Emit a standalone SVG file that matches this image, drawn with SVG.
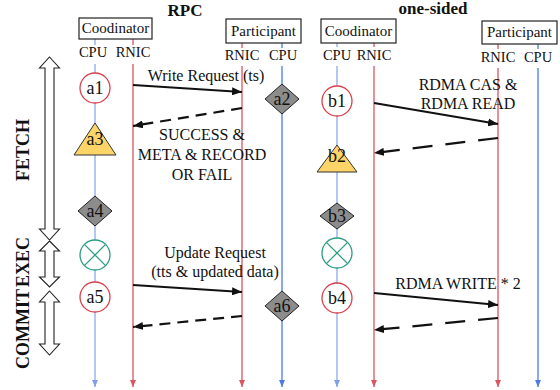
<svg xmlns="http://www.w3.org/2000/svg" width="560" height="390" viewBox="0 0 560 390">
<style>
text{font-family:"Liberation Serif","Times New Roman",serif;fill:#111}
.title{font-size:17px;font-weight:bold;text-anchor:middle}
.box{fill:#fff;stroke:#222;stroke-width:1.2}
.boxt{font-size:15px;text-anchor:middle}
.lab{font-size:14.5px;text-anchor:middle}
.msg{font-size:16px;text-anchor:middle}
.nt{font-size:18px;text-anchor:middle}
.red{stroke:#dc5560;stroke-width:1.3;fill:none}
.blue{stroke:#4f7be6;stroke-width:1.3;fill:none}
.lblue{stroke:#a3bbf2;stroke-width:1.6;fill:none}
.req{stroke:#111;stroke-width:2.2;fill:none}
.resp{stroke:#111;stroke-width:2.2;fill:none;stroke-dasharray:11,7}
.resp2{stroke:#111;stroke-width:2.2;fill:none;stroke-dasharray:20,13}
.circ{fill:#fff;stroke:#d8404a;stroke-width:1.3}
.dia{fill:#8c8c8c;stroke:#222;stroke-width:1}
.tri{fill:#fcd468;stroke:#333;stroke-width:1}
.cx{fill:#fff;stroke:#2a9d82;stroke-width:1.3}
.phase{fill:#fff;stroke:#222;stroke-width:1.1}
.vt{font-size:18px;font-weight:bold;text-anchor:middle}
</style>
<defs>
<marker id="ah" viewBox="0 0 10 8" refX="10" refY="4" markerWidth="10" markerHeight="8" markerUnits="userSpaceOnUse" orient="auto"><path d="M0,0 L10,4 L0,8 Z" fill="#111"/></marker>
<marker id="ahr" viewBox="0 0 6 7" refX="3" refY="7" markerWidth="6" markerHeight="7" markerUnits="userSpaceOnUse" orient="0"><path d="M0,0 L6,0 L3,7 Z" fill="#dc5560"/></marker>
<marker id="ahb" viewBox="0 0 6 7" refX="3" refY="7" markerWidth="6" markerHeight="7" markerUnits="userSpaceOnUse" orient="0"><path d="M0,0 L6,0 L3,7 Z" fill="#4f7be6"/></marker>
<marker id="ahl" viewBox="0 0 6 7" refX="3" refY="7" markerWidth="6" markerHeight="7" markerUnits="userSpaceOnUse" orient="0"><path d="M0,0 L6,0 L3,7 Z" fill="#7f9fec"/></marker>
</defs>

<rect width="560" height="390" fill="#fff"/>

<text class="title" x="185" y="16">RPC</text>
<text class="title" x="433" y="14">one-sided</text>

<g id="lifelines">
<path class="lblue" d="M95,39V45M95,64V387" marker-end="url(#ahl)"/>
<path class="red" d="M133,39V45M133,64V387" marker-end="url(#ahr)"/>
<path class="red" d="M242,43V48M242,66V387" marker-end="url(#ahr)"/>
<path class="blue" d="M282,43V48M282,66V387" marker-end="url(#ahb)"/>
<path class="lblue" d="M337,43V47M337,66V387" marker-end="url(#ahl)"/>
<path class="red" d="M374,43V47M374,66V387" marker-end="url(#ahr)"/>
<path class="red" d="M498,44V49M498,68V387" marker-end="url(#ahr)"/>
<path class="blue" d="M538,44V49M538,68V387" marker-end="url(#ahb)"/>
</g>

<g id="coord-rpc">
<rect class="box" x="79" y="18" width="73" height="21"/>
<text class="boxt" x="115.5" y="33">Coodinator</text>
<text class="lab" x="93" y="57">CPU</text>
<text class="lab" x="133" y="57">RNIC</text>
</g>
<g id="part-rpc">
<rect class="box" x="226" y="19" width="75" height="24"/>
<text class="boxt" x="263.5" y="36">Participant</text>
<text class="lab" x="242" y="60">RNIC</text>
<text class="lab" x="283" y="60">CPU</text>
</g>
<g id="coord-os">
<rect class="box" x="321" y="19" width="75" height="24"/>
<text class="boxt" x="358.5" y="36">Coodinator</text>
<text class="lab" x="337" y="60">CPU</text>
<text class="lab" x="374" y="60">RNIC</text>
</g>
<g id="part-os">
<rect class="box" x="482" y="21" width="75" height="23"/>
<text class="boxt" x="519.5" y="37">Participant</text>
<text class="lab" x="498" y="62">RNIC</text>
<text class="lab" x="538" y="62">CPU</text>
</g>

<g id="connectors">
<path class="req" d="M133,85 L242,92" marker-end="url(#ah)"/>
<path class="resp" d="M242,108 L133,126" marker-end="url(#ah)"/>
<path class="req" d="M374,103 L498,124" marker-end="url(#ah)"/>
<path class="resp2" d="M498,138 L374,153" marker-end="url(#ah)"/>
<path class="req" d="M133,285 L242,292" marker-end="url(#ah)"/>
<path class="resp" d="M242,316 L133,327" marker-end="url(#ah)"/>
<path class="req" d="M374,293 L498,305" marker-end="url(#ah)"/>
<path class="resp2" d="M498,318 L374,330" marker-end="url(#ah)"/>
</g>

<g id="labels">
<text class="msg" x="206" y="81">Write Request (ts)</text>
<text class="msg" x="202" y="140">SUCCESS &amp;</text>
<text class="msg" x="202" y="160">META &amp; RECORD</text>
<text class="msg" x="202" y="180">OR FAIL</text>
<text class="msg" x="468" y="90">RDMA CAS &amp;</text>
<text class="msg" x="468" y="109">RDMA READ</text>
<text class="msg" x="215" y="258">Update Request</text>
<text class="msg" x="215" y="277">(tts &amp; updated data)</text>
<text class="msg" x="458" y="289">RDMA WRITE * 2</text>
</g>

<g id="a1"><circle class="circ" cx="95" cy="88" r="15"/><text class="nt" x="95" y="94">a1</text></g>
<g id="a2"><path class="dia" d="M282,84 L299,99 L282,114 L265,99 Z"/><text class="nt" x="282" y="105">a2</text></g>
<g id="a3"><path class="tri" d="M95,123 L116,155 L74,155 Z"/><text class="nt" x="95" y="145">a3</text></g>
<g id="a4"><path class="dia" d="M95,196 L112,211 L95,226 L78,211 Z"/><text class="nt" x="95" y="217">a4</text></g>
<g id="commit-rpc"><circle class="cx" cx="95" cy="255" r="15"/><path class="cx" d="M84.4,244.4 L105.6,265.6 M105.6,244.4 L84.4,265.6"/></g>
<g id="a5"><circle class="circ" cx="95" cy="297" r="15"/><text class="nt" x="95" y="303">a5</text></g>
<g id="a6"><path class="dia" d="M282,291 L299,306 L282,321 L265,306 Z"/><text class="nt" x="282" y="312">a6</text></g>

<g id="b1"><circle class="circ" cx="337" cy="101" r="15"/><text class="nt" x="337" y="107">b1</text></g>
<g id="b2"><path class="tri" d="M337,145 L357,172 L317,172 Z"/><text class="nt" x="337" y="162">b2</text></g>
<g id="b3"><path class="dia" d="M337,203 L354,216 L337,229 L320,216 Z"/><text class="nt" x="337" y="222">b3</text></g>
<g id="commit-os"><circle class="cx" cx="337" cy="253" r="15"/><path class="cx" d="M326.4,242.4 L347.6,263.6 M347.6,242.4 L326.4,263.6"/></g>
<g id="b4"><circle class="circ" cx="337" cy="298" r="15"/><text class="nt" x="337" y="304">b4</text></g>

<g id="phase-fetch">
<path class="phase" d="M49.5,57 L59.5,68 L54,68 L54,229 L59.5,229 L49.5,240 L39.5,229 L45,229 L45,68 L39.5,68 Z"/>
<text class="vt" transform="translate(29,150) rotate(-90)">FETCH</text>
</g>
<g id="phase-exec">
<path class="phase" d="M49.5,241 L59.5,251 L54,251 L54,277 L59.5,277 L49.5,287 L39.5,277 L45,277 L45,251 L39.5,251 Z"/>
<text class="vt" transform="translate(29,262) rotate(-90)">EXEC</text>
</g>
<g id="phase-commit">
<path class="phase" d="M49.5,291 L59.5,302 L54,302 L54,344 L59.5,344 L49.5,355 L39.5,344 L45,344 L45,302 L39.5,302 Z"/>
<text class="vt" transform="translate(29,329) rotate(-90)">COMMIT</text>
</g>
</svg>
